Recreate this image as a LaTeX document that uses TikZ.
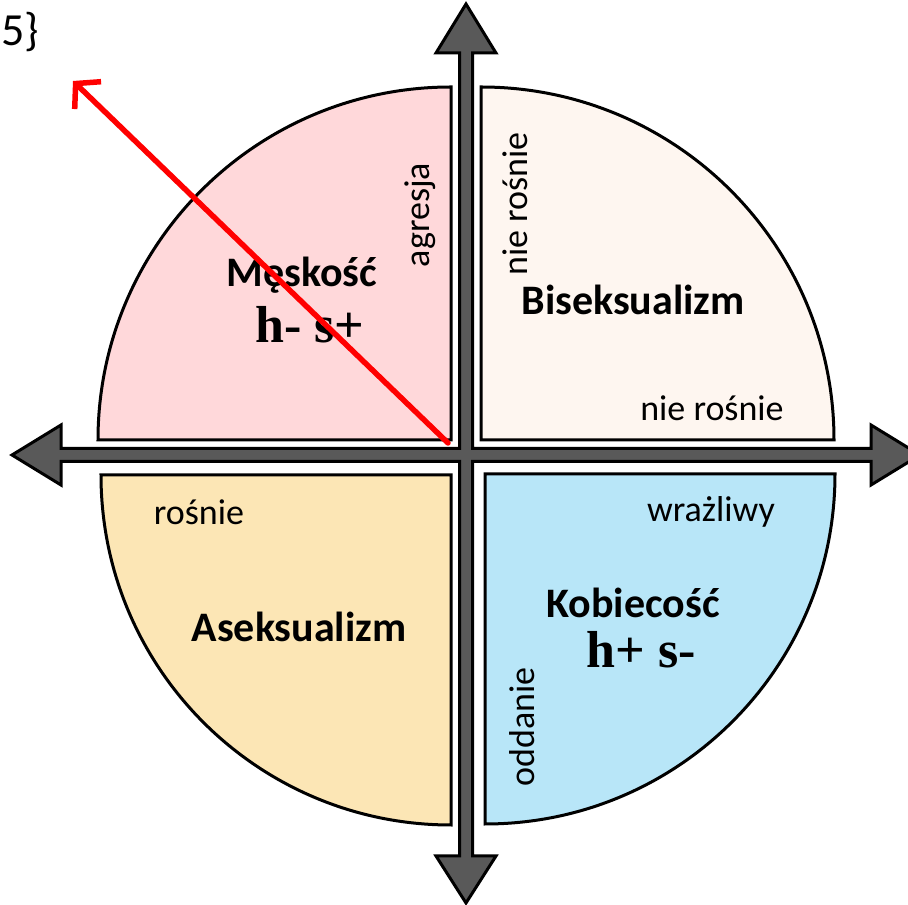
\documentclass[tikz,border=0pt]{standalone}
\usepackage{fontspec}
\setmainfont{Carlito}
\newfontfamily\hsfont{Liberation Serif}
\usetikzlibrary{arrows.meta}
\definecolor{axisgray}{HTML}{595959}
\definecolor{qpink}{HTML}{FFD8DA}
\definecolor{qcream}{HTML}{FEF6F0}
\definecolor{qyellow}{HTML}{FCE6B5}
\definecolor{qblue}{HTML}{B8E6F8}
\tikzset{
  quad/.style={draw=black, line width=3pt},
  lbl/.style={inner sep=0pt, font=\fontsize{36}{40}\selectfont},
  title/.style={inner sep=0pt, font=\fontsize{42}{46}\selectfont\bfseries},
  hs/.style={inner sep=0pt, font=\fontsize{52}{56}\selectfont\hsfont\bfseries},
  redarrow/.style={draw=red, line width=5.5pt, line cap=round, -{Straight Barb[length=17pt,width=38pt,line width=5.5pt]}}
}
\begin{document}
\begin{tikzpicture}[x=1pt,y=1pt]
\useasboundingbox (0,0) rectangle (908,905);
% quadrants
\path[quad, fill=qpink] (451,465) -- (98,465) arc[start angle=180, end angle=90, radius=353] -- cycle;
\path[quad, fill=qcream] (481,465) -- (481,818) arc[start angle=90, end angle=0, radius=353] -- cycle;
\path[quad, fill=qyellow] (451,430) -- (451,80) arc[start angle=270, end angle=180, radius=350] -- cycle;
\path[quad, fill=qblue] (485,431) -- (835,431) arc[start angle=0, end angle=-90, radius=350] -- cycle;
% axes (cross with four heads)
\path[draw=black, line width=3pt, fill=axisgray, line join=miter]
  (466,901) -- (496,852) -- (472.5,852) -- (472.5,456.5) -- (871,456.5) -- (871,480)
  -- (920,450) -- (871,420) -- (871,443.5) -- (472.5,443.5) -- (472.5,49) -- (496,49)
  -- (466,2) -- (436,49) -- (459.5,49) -- (459.5,443.5) -- (61,443.5) -- (61,420)
  -- (12,450) -- (61,480) -- (61,456.5) -- (459.5,456.5) -- (459.5,852) -- (436,852) -- cycle;
% texts
\node[title] (mesk) at (302,630) {Męskość};
\node[hs] (hsm) at (310,580) {h- s+};
\node[lbl, rotate=90] (agr) at (420,690) {agresja};
\node[lbl, rotate=90] (nr1) at (515,701) {nie rośnie};
\node[title] (bis) at (633,605) {Biseksualizm};
\node[lbl] (nr2) at (712,497) {nie rośnie};
\node[lbl] (ros) at (199,393) {rośnie};
\node[title] (ase) at (299,278) {Aseksualizm};
\node[lbl] (wra) at (711,393) {wrażliwy};
\node[title] (kob) at (633,302) {Kobiecość};
\node[hs] (hsk) at (641,255) {h+ s-};
\node[lbl, rotate=90] (odd) at (522,178) {oddanie};
\node[inner sep=0pt, anchor=east, font=\fontsize{46}{50}\selectfont] (five) at (39,873) {5\}};
% red arrow
\coordinate (rstart) at (448,462);
\coordinate (rend) at (73,824);
\draw[redarrow] (rstart) -- (rend);
\end{tikzpicture}
\end{document}
